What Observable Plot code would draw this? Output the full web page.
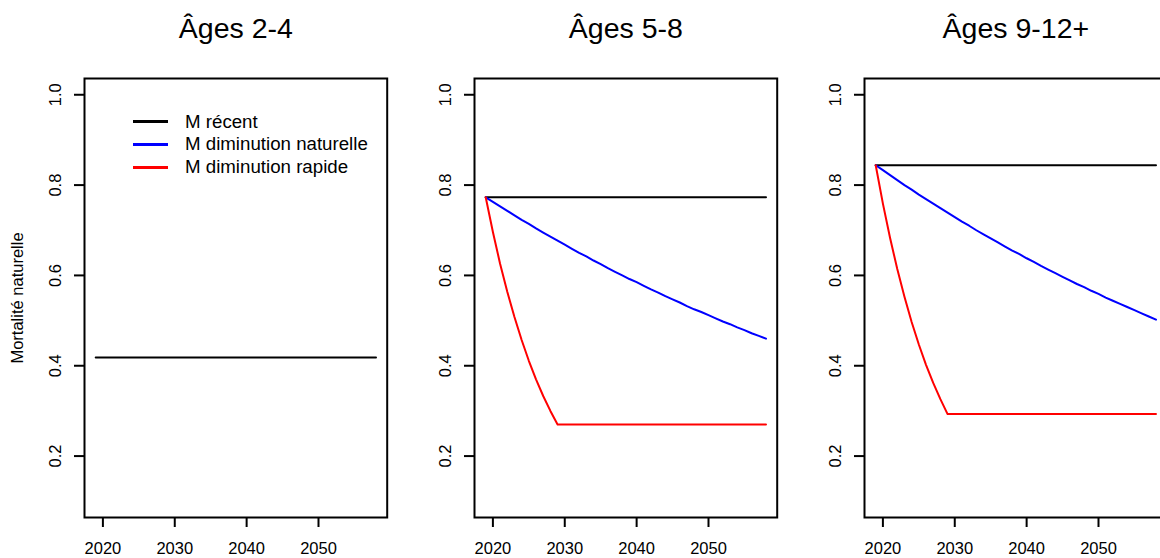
<!DOCTYPE html>
<html>
<head>
<meta charset="utf-8">
<script src="https://cdn.jsdelivr.net/npm/d3@7"></script>
<script src="https://cdn.jsdelivr.net/npm/@observablehq/plot@0.6"></script>
<style>
  html, body { margin: 0; padding: 0; background: #fff; }
  #wrap {
    width: 1160px; height: 558px; overflow: hidden; position: relative;
    display: flex; font-family: "Liberation Sans", Arial, sans-serif;
  }
  .panel { position: relative; flex: 0 0 390px; width: 390px; height: 558px; }
  .panel svg { display: block; overflow: visible; }
  .legend { position: absolute; left: 133px; top: 110.3px; font-size: 18.7px; color: #000; }
  .legend .row { display: flex; align-items: center; height: 22.8px; white-space: nowrap; }
  .legend .swatch { display: inline-block; width: 35px; height: 3px; margin-right: 17px; }
</style>
</head>
<body>
<div id="wrap"></div>
<script>
// Projection years
const years = [
  2019, 2020, 2021, 2022, 2023, 2024, 2025, 2026, 2027, 2028,
  2029, 2030, 2031, 2032, 2033, 2034, 2035, 2036, 2037, 2038,
  2039, 2040, 2041, 2042, 2043, 2044, 2045, 2046, 2047, 2048,
  2049, 2050, 2051, 2052, 2053, 2054, 2055, 2056, 2057, 2058
];

const panelTitles = ["Âges 2-4", "Âges 5-8", "Âges 9-12+"];
const seriesNames = ["M récent", "M diminution naturelle", "M diminution rapide"];
const seriesColors = ["black", "blue", "red"];
const yLabel = "Mortalité naturelle";

const xTicks = [2020, 2030, 2040, 2050];
const xTickLabels = ["2020", "2030", "2040", "2050"];
const yTicks = [0.2, 0.4, 0.6, 0.8, 1.0];
const yTickLabels = ["0.2", "0.4", "0.6", "0.8", "1.0"];
const yLimits = [0.1, 1.0];

// Ages 2-4: recent M only
const recent24 = 0.418;

// Ages 5-8
const recent58 = 0.773;
const natural58 = [
  0.773, 0.763, 0.753, 0.743, 0.733, 0.723, 0.714, 0.704, 0.695, 0.686,
  0.677, 0.668, 0.659, 0.650, 0.642, 0.633, 0.625, 0.616, 0.608, 0.600,
  0.592, 0.585, 0.577, 0.569, 0.562, 0.554, 0.547, 0.540, 0.532, 0.525,
  0.519, 0.512, 0.505, 0.498, 0.492, 0.485, 0.479, 0.472, 0.466, 0.460
];
const rapid58 = [
  0.773, 0.696, 0.626, 0.564, 0.508, 0.457, 0.411, 0.370, 0.333, 0.300,
  0.270, 0.270, 0.270, 0.270, 0.270, 0.270, 0.270, 0.270, 0.270, 0.270,
  0.270, 0.270, 0.270, 0.270, 0.270, 0.270, 0.270, 0.270, 0.270, 0.270,
  0.270, 0.270, 0.270, 0.270, 0.270, 0.270, 0.270, 0.270, 0.270, 0.270
];

// Ages 9-12+
const recent912 = 0.844;
const natural912 = [
  0.844, 0.833, 0.822, 0.811, 0.800, 0.790, 0.779, 0.769, 0.759, 0.749,
  0.739, 0.729, 0.719, 0.710, 0.700, 0.691, 0.682, 0.673, 0.664, 0.655,
  0.647, 0.638, 0.630, 0.621, 0.613, 0.605, 0.597, 0.589, 0.581, 0.574,
  0.566, 0.559, 0.551, 0.544, 0.537, 0.530, 0.523, 0.516, 0.509, 0.502
];
const rapid912 = [
  0.844, 0.759, 0.683, 0.614, 0.553, 0.497, 0.447, 0.402, 0.362, 0.326,
  0.293, 0.293, 0.293, 0.293, 0.293, 0.293, 0.293, 0.293, 0.293, 0.293,
  0.293, 0.293, 0.293, 0.293, 0.293, 0.293, 0.293, 0.293, 0.293, 0.293,
  0.293, 0.293, 0.293, 0.293, 0.293, 0.293, 0.293, 0.293, 0.293, 0.293
];

const flat = v => years.map(() => v);

const panels = [
  { title: panelTitles[0], yLabel: true, legend: true,
    series: [{ name: seriesNames[0], values: flat(recent24) }] },
  { title: panelTitles[1],
    series: [
      { name: seriesNames[0], values: flat(recent58) },
      { name: seriesNames[1], values: natural58 },
      { name: seriesNames[2], values: rapid58 }
    ] },
  { title: panelTitles[2],
    series: [
      { name: seriesNames[0], values: flat(recent912) },
      { name: seriesNames[1], values: natural912 },
      { name: seriesNames[2], values: rapid912 }
    ] }
];

// R-style axis ranges: data range padded by 4% on each side
const xPad = 0.04 * (years[years.length - 1] - years[0]);
const xDomain = [years[0] - xPad, years[years.length - 1] + xPad];
const yPad = 0.04 * (yLimits[1] - yLimits[0]);
const yDomain = [yLimits[0] - yPad, yLimits[1] + yPad];

const font = '"Liberation Sans", Arial, sans-serif';
const wrap = document.getElementById("wrap");

for (const p of panels) {
  const rows = p.series.flatMap(s =>
    years.map((yr, i) => ({ year: yr, value: s.values[i], name: s.name }))
  );

  const marks = [
    Plot.line(rows, { x: "year", y: "value", z: "name", stroke: "name", strokeWidth: 2 }),
    Plot.frame({ stroke: "black", strokeWidth: 2 }),
    Plot.axisX({ ticks: xTicks, tickSize: 10, tickFormat: () => "", label: null, strokeWidth: 2 }),
    Plot.axisY({ ticks: yTicks, tickSize: 10, tickFormat: () => "", label: null, strokeWidth: 2 }),
    Plot.text(xTicks, {
      x: d => d, text: (d, i) => xTickLabels[i], frameAnchor: "bottom",
      dy: 31, lineAnchor: "middle", textAnchor: "middle", fontSize: 16.5, fill: "black"
    }),
    Plot.text(yTicks, {
      y: d => d, text: (d, i) => yTickLabels[i], frameAnchor: "left",
      dx: -29, rotate: -90, lineAnchor: "middle", textAnchor: "middle", fontSize: 16.5, fill: "black"
    }),
    Plot.text([p.title], {
      frameAnchor: "top", dy: -50, lineAnchor: "middle", textAnchor: "middle",
      fontSize: 28.5, fill: "black"
    })
  ];
  if (p.yLabel) {
    marks.push(Plot.text([yLabel], {
      frameAnchor: "left", dx: -67, rotate: -90, lineAnchor: "middle",
      textAnchor: "middle", fontSize: 16.5, fill: "black"
    }));
  }

  const chart = Plot.plot({
    width: 390,
    height: 558,
    marginLeft: 84,
    marginRight: 3.3,
    marginTop: 78,
    marginBottom: 41,
    style: { fontFamily: font, background: "white", color: "black", overflow: "visible" },
    x: { domain: xDomain, axis: null },
    y: { domain: yDomain, axis: null },
    color: { domain: seriesNames, range: seriesColors },
    marks
  });

  const div = document.createElement("div");
  div.className = "panel";
  div.appendChild(chart);

  if (p.legend) {
    const lg = document.createElement("div");
    lg.className = "legend";
    seriesNames.forEach((name, i) => {
      const row = document.createElement("div");
      row.className = "row";
      const sw = document.createElement("span");
      sw.className = "swatch";
      sw.style.background = seriesColors[i];
      const label = document.createElement("span");
      label.textContent = name;
      row.appendChild(sw);
      row.appendChild(label);
      lg.appendChild(row);
    });
    div.appendChild(lg);
  }
  wrap.appendChild(div);
}
</script>
</body>
</html>
